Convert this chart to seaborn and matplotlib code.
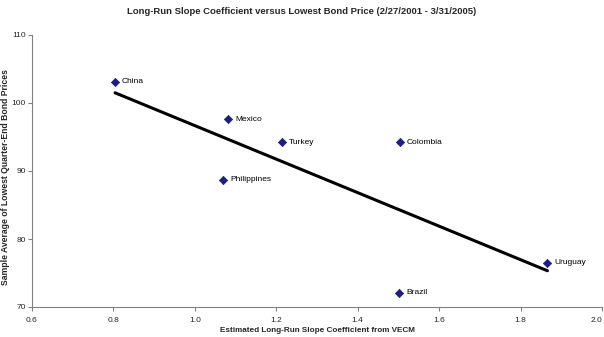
import matplotlib
matplotlib.use("Agg")
import matplotlib.pyplot as plt
import seaborn as sns
import pandas as pd

countries = ["China", "Mexico", "Turkey", "Philippines", "Colombia", "Uruguay", "Brazil"]
slope_coef = [0.804, 1.082, 1.214, 1.069, 1.504, 1.866, 1.502]
bond_price = [103.1, 97.6, 94.2, 88.7, 94.2, 76.5, 72.1]
x_ticks = [0.6, 0.8, 1.0, 1.2, 1.4, 1.6, 1.8, 2.0]
x_tick_labels = ["0.6", "0.8", "1.0", "1.2", "1.4", "1.6", "1.8", "2.0"]
y_ticks = [70, 80, 90, 100, 110]

df = pd.DataFrame({"country": countries, "x": slope_coef, "y": bond_price})

sns.set_theme(style="white")
plt.rcParams["font.family"] = ["Liberation Sans", "DejaVu Sans"]

fig = plt.figure(figsize=(6.04, 3.37), dpi=100)
ax = fig.add_axes([32/604, 1-307/337, 570/604, 272/337])

sns.regplot(data=df, x="x", y="y", scatter=False, ci=None, truncate=True,
            line_kws={"color": "black", "lw": 2.2}, ax=ax)
sns.scatterplot(data=df, x="x", y="y", marker="D", s=18, color="#1F1F7A",
                edgecolor="#1F1F7A", linewidth=0.5, ax=ax, zorder=3)
for c, xv, yv in zip(countries, slope_coef, bond_price):
    ax.annotate(c, (xv, yv), xytext=(5, 0), textcoords="offset points",
                fontsize=6, va="center", ha="left", color="black")

ax.set_xlim(0.6, 2.0)
ax.set_ylim(70, 110)
ax.set_xticks(x_ticks)
ax.set_xticklabels(x_tick_labels)
ax.set_yticks(y_ticks)
ax.get_xticklabels()[-1].set_ha("right")
for s in ["top", "right"]:
    ax.spines[s].set_visible(False)
for s in ["left", "bottom"]:
    ax.spines[s].set_color("#808080")
    ax.spines[s].set_linewidth(0.8)
ax.tick_params(axis="both", which="both", direction="out", length=3, width=0.8,
               color="#808080", labelsize=6, bottom=True, left=True)
ax.tick_params(axis="x", pad=4)
ax.tick_params(axis="y", pad=1.5)
ax.set_xlabel("Estimated Long-Run Slope Coefficient from VECM", fontsize=5.9,
              fontweight="bold")
ax.set_ylabel("Sample Average of Lowest Quarter-End Bond Prices", fontsize=6.2,
              fontweight="bold")
ax.xaxis.set_label_coords(0.5, -(331-307)/272)
ax.yaxis.set_label_coords(-(32-6)/570, (307-177)/272)
ax.xaxis.label.set_va("center")
ax.yaxis.label.set_va("center")
fig.suptitle("Long-Run Slope Coefficient versus Lowest Bond Price (2/27/2001 - 3/31/2005)",
             fontsize=6.8, fontweight="bold", x=0.5, y=1-12/337, va="center")

fig.savefig("out.png", dpi=100)
